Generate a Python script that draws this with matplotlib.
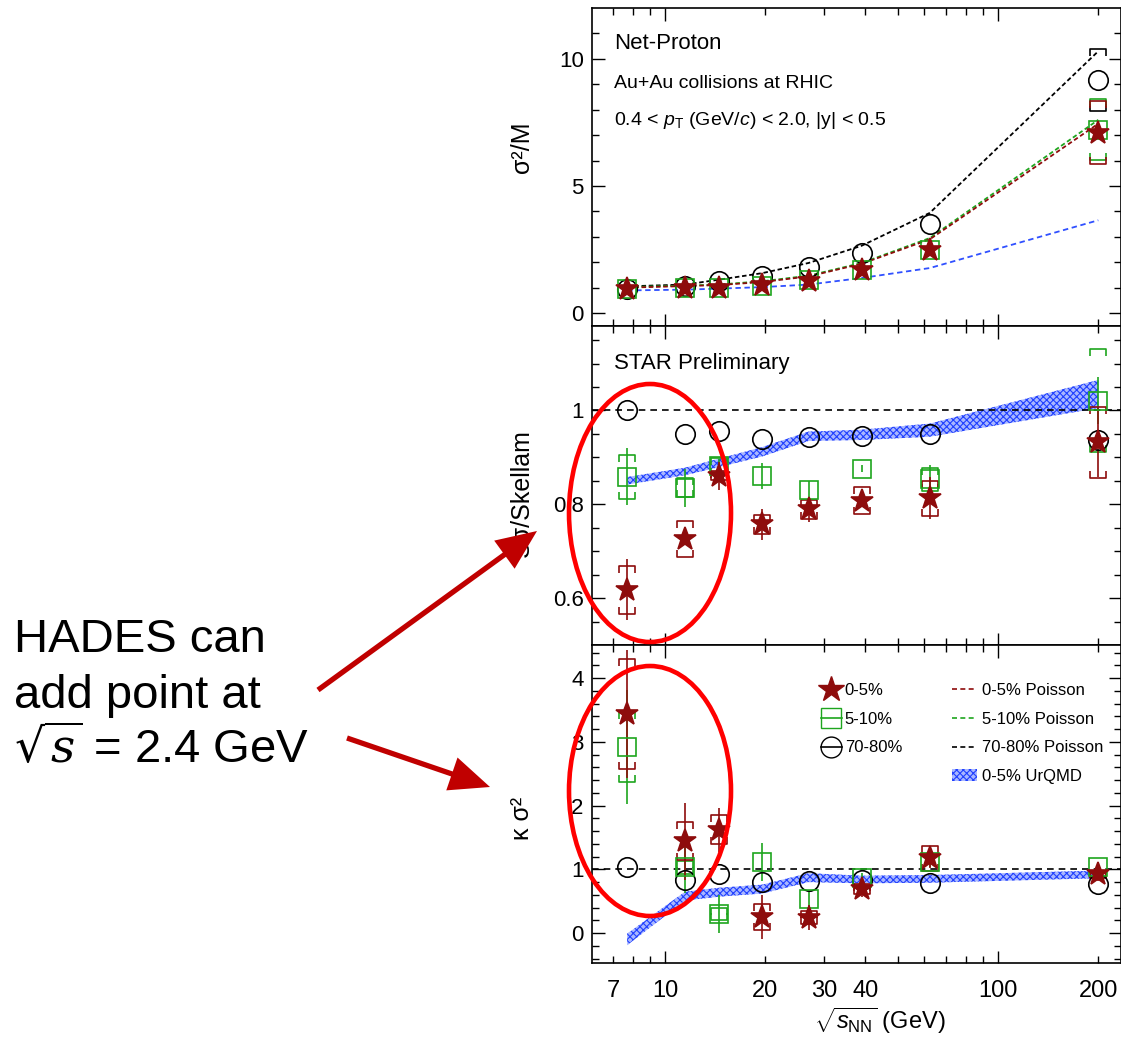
import numpy as np
import matplotlib.pyplot as plt
from matplotlib.lines import Line2D
from matplotlib.patches import Ellipse, FancyArrowPatch, Patch, ArrowStyle
from matplotlib.path import Path

plt.rcParams['font.family'] = ['Liberation Sans', 'DejaVu Sans']
plt.rcParams['mathtext.fontset'] = 'custom'
plt.rcParams['mathtext.rm'] = 'Liberation Sans'
plt.rcParams['mathtext.it'] = 'Liberation Sans:italic'
plt.rcParams['mathtext.bf'] = 'Liberation Sans:bold'
plt.rcParams['hatch.linewidth'] = 0.8

# collision energies (GeV)
energy = [7.7, 11.5, 14.5, 19.6, 27, 39, 62.4, 200]

# --- sigma^2/M ---
c2m_0_5 = [0.94, 0.97, 0.98, 1.09, 1.25, 1.70, 2.47, 7.10]
c2m_5_10 = [0.94, 0.97, 0.98, 1.08, 1.30, 1.70, 2.48, 7.22]
c2m_70_80 = [0.95, 1.05, 1.25, 1.45, 1.80, 2.35, 3.50, 9.15]
c2m_sys_0_5 = [0, 0, 0, 0, 0, 0, 0, 1.25]
c2m_sys_5_10 = [0, 0, 0, 0, 0, 0, 0, 1.20]
c2m_sys_70_80 = [0, 0, 0, 0, 0, 0, 0, 1.22]
pois_0_5 = [1.00, 1.06, 1.10, 1.22, 1.44, 1.94, 2.90, 7.45]
pois_5_10 = [1.02, 1.08, 1.12, 1.25, 1.47, 1.97, 2.95, 7.60]
pois_70_80 = [1.05, 1.12, 1.31, 1.57, 1.97, 2.65, 3.94, 10.30]
urqmd_c2m = [0.89, 0.92, 0.96, 1.02, 1.12, 1.38, 1.77, 3.65]

# --- S sigma / Skellam ---
ss_0_5 = [0.618, 0.726, 0.861, 0.757, 0.789, 0.808, 0.813, 0.932]
ss_stat_0_5 = [0.065, 0.012, 0.030, 0.033, 0.027, 0.012, 0.045, 0.073]
ss_sys_0_5 = [0.051, 0.039, 0.010, 0.021, 0.021, 0.028, 0.037, 0.075]
ss_5_10 = [0.859, 0.835, 0.881, 0.860, 0.830, 0.876, 0.853, 1.021]
ss_stat_5_10 = [0.060, 0.040, 0.015, 0.028, 0.020, 0.008, 0.030, 0.050]
ss_sys_5_10 = [0.047, 0.020, 0.018, 0, 0, 0, 0.025, 0.110]
ss_70_80 = [1.000, 0.950, 0.957, 0.940, 0.943, 0.946, 0.950, 0.936]
urqmd_ss = [0.850, 0.870, 0.888, 0.912, 0.945, 0.948, 0.958, 1.035]
urqmd_ss_err = [0.008, 0.008, 0.009, 0.010, 0.010, 0.011, 0.014, 0.030]

# --- kappa sigma^2 ---
ks_0_5 = [3.44, 1.44, 1.62, 0.25, 0.24, 0.69, 1.17, 0.92]
ks_stat_0_5 = [1.00, 0.60, 0.35, 0.35, 0.20, 0.12, 0.15, 0.10]
ks_sys_0_5 = [0.86, 0.30, 0.23, 0.20, 0.10, 0.08, 0.19, 0.05]
ks_5_10 = [2.92, 1.03, 0.30, 1.12, 0.53, 0.86, 1.12, 1.04]
ks_stat_5_10 = [0.90, 0.40, 0.30, 0.30, 0.12, 0.08, 0.08, 0.08]
ks_sys_5_10 = [0.55, 0.10, 0.10, 0, 0, 0, 0, 0]
ks_70_80 = [1.04, 0.83, 0.92, 0.80, 0.82, 0.83, 0.78, 0.77]
urqmd_ks = [-0.10, 0.58, 0.64, 0.69, 0.87, 0.84, 0.85, 0.92]
urqmd_ks_err = [0.09, 0.07, 0.07, 0.07, 0.07, 0.06, 0.06, 0.06]

red = '#8e0c0c'
green = '#1ea51e'
blue = '#3050ff'

W, H = 1121, 1042
fig = plt.figure(figsize=(W / 100, H / 100), dpi=100)
left, width = 592 / W, (W - 592) / W
ax1 = fig.add_axes([left, 1 - 326 / H, width, 318 / H])
ax2 = fig.add_axes([left, 1 - 645 / H, width, 319 / H], sharex=ax1)
ax3 = fig.add_axes([left, 1 - 963 / H, width, 318 / H], sharex=ax1)

# bracket shapes for systematic errors
cap_top = Path([(-1, -0.9), (-1, 0), (1, 0), (1, -0.9)],
               [Path.MOVETO, Path.LINETO, Path.LINETO, Path.LINETO])
cap_bot = Path([(-1, 0.9), (-1, 0), (1, 0), (1, 0.9)],
               [Path.MOVETO, Path.LINETO, Path.LINETO, Path.LINETO])


def sys_caps(ax, y, sys, color):
    x = np.array(energy)
    y = np.array(y)
    sys = np.array(sys)
    m = sys > 0
    ax.plot(x[m], y[m] + sys[m], ls='none', marker=cap_top, ms=11,
            mfc='none', mec=color, mew=1.2, zorder=3)
    ax.plot(x[m], y[m] - sys[m], ls='none', marker=cap_bot, ms=11,
            mfc='none', mec=color, mew=1.2, zorder=3)


def points(ax, y, stat, sys, color, marker, ms, filled):
    if stat is not None:
        ax.errorbar(energy, y, yerr=stat, fmt='none', ecolor=color,
                    elinewidth=1.2, capsize=0, zorder=3)
    if sys is not None:
        sys_caps(ax, y, sys, color)
    ax.plot(energy, y, ls='none', marker=marker, ms=ms,
            mfc=color if filled else 'none', mec=color, mew=1.2, zorder=4)


def band(ax, y, err):
    y = np.array(y)
    err = np.array(err)
    ax.fill_between(energy, y - err, y + err, facecolor='#a9b7ff',
                    edgecolor='#2040ff', hatch='xxxxx', lw=0, zorder=1)


# top panel: sigma^2/M
ax1.plot(energy, pois_70_80, color='black', lw=1.3, dashes=(2.5, 1.5), zorder=2)
ax1.plot(energy, pois_5_10, color=green, lw=1.3, dashes=(2.5, 1.5), zorder=2)
ax1.plot(energy, pois_0_5, color=red, lw=1.3, dashes=(2.5, 1.5), zorder=2)
ax1.plot(energy, urqmd_c2m, color=blue, lw=1.3, dashes=(3, 2), zorder=2)
points(ax1, c2m_70_80, None, c2m_sys_70_80, 'black', 'o', 14, False)
points(ax1, c2m_5_10, None, c2m_sys_5_10, green, 's', 13, False)
points(ax1, c2m_0_5, None, c2m_sys_0_5, red, '*', 17, True)

# middle panel: S sigma / Skellam
band(ax2, urqmd_ss, urqmd_ss_err)
ax2.axhline(1, color='black', lw=1.2, dashes=(4, 3), zorder=2)
points(ax2, ss_70_80, None, None, 'black', 'o', 14, False)
points(ax2, ss_5_10, ss_stat_5_10, ss_sys_5_10, green, 's', 13, False)
points(ax2, ss_0_5, ss_stat_0_5, ss_sys_0_5, red, '*', 17, True)

# bottom panel: kappa sigma^2
band(ax3, urqmd_ks, urqmd_ks_err)
ax3.axhline(1, color='black', lw=1.2, dashes=(4, 3), zorder=2)
points(ax3, ks_70_80, None, None, 'black', 'o', 14, False)
points(ax3, ks_5_10, ks_stat_5_10, ks_sys_5_10, green, 's', 13, False)
points(ax3, ks_0_5, ks_stat_0_5, ks_sys_0_5, red, '*', 17, True)

ax1.set_xscale('log')
ax1.set_xlim(6.04, 234)
ax1.set_ylim(-0.51, 12.0)
ax2.set_ylim(0.5, 1.18)
ax3.set_ylim(-0.47, 4.52)

ax1.set_yticks([0, 5, 10])
ax1.set_yticks(np.arange(0, 12, 1), minor=True)
ax2.set_yticks([0.6, 0.8, 1.0])
ax2.set_yticklabels(['0.6', '0.8', '1'])
ax2.set_yticks(np.arange(0.55, 1.18, 0.05), minor=True)
ax3.set_yticks([0, 1, 2, 3, 4])
ax3.set_yticks(np.arange(-0.4, 4.52, 0.2), minor=True)

minor_x = [7, 8, 9, 20, 30, 40, 50, 60, 70, 80, 90, 200]
minor_lbl = ['7', '', '', '20', '30', '40', '', '', '', '', '', '200']
for ax in (ax1, ax2, ax3):
    ax.set_xticks([10, 100])
    ax.set_xticks(minor_x, minor=True)
    ax.tick_params(which='both', direction='in', top=True, right=True,
                   width=1.0, labelsize=16, pad=6)
    ax.tick_params(which='major', length=9)
    ax.tick_params(which='minor', length=5)
    for s in ax.spines.values():
        s.set_linewidth(1.2)
for ax in (ax1, ax2):
    ax.tick_params(axis='x', which='both', labelbottom=False)
ax3.set_xticklabels(['10', '100'])
ax3.set_xticklabels(minor_lbl, minor=True)
ax3.tick_params(axis='x', which='both', labelsize=17, pad=12)

ax1.set_ylabel('σ²/M', fontsize=18, va='center')
ax1.yaxis.set_label_coords(-0.132, 0.563)
ax2.set_ylabel('Sσ/Skellam', fontsize=18, va='center')
ax2.yaxis.set_label_coords(-0.132, 0.476)
ax3.set_ylabel('κ σ²', fontsize=18, va='center')
ax3.yaxis.set_label_coords(-0.132, 0.456)
ax3.set_xlabel(r'$\sqrt{s_{\rm NN}}$ (GeV)', fontsize=17)
ax3.xaxis.set_label_coords(0.544, -0.135)

ax1.text(0.042, 0.887, 'Net-Proton', transform=ax1.transAxes, fontsize=16, va='center')
ax1.text(0.042, 0.764, 'Au+Au collisions at RHIC', transform=ax1.transAxes,
         fontsize=14, va='center')
ax1.text(0.042, 0.645, r'0.4 < $p_{\rm T}$ (GeV/$c$) < 2.0, |y| < 0.5',
         transform=ax1.transAxes, fontsize=14, va='center')
ax2.text(0.042, 0.881, 'STAR Preliminary', transform=ax2.transAxes, fontsize=16, va='center')

# legends
mk_handles = [
    Line2D([], [], ls='none', marker='*', ms=19, color=red),
    Line2D([], [], ls='-', lw=1.2, marker='s', ms=14, mfc='none', mec=green, color=green),
    Line2D([], [], ls='-', lw=1.2, marker='o', ms=15, mfc='none', mec='black', color='black'),
]
leg1 = ax3.legend(mk_handles, ['0-5%', '5-10%', '70-80%'], loc='upper left',
                  bbox_to_anchor=(0.432, 0.88), frameon=False, fontsize=12,
                  handlelength=1.3, handletextpad=0.15, labelspacing=0.82,
                  borderpad=0, borderaxespad=0)
ax3.add_artist(leg1)
ln_handles = [
    Line2D([], [], color=red, lw=1.2, dashes=(3, 2)),
    Line2D([], [], color=green, lw=1.2, dashes=(3, 2)),
    Line2D([], [], color='black', lw=1.2, dashes=(3, 2)),
    Patch(facecolor='#a9b7ff', edgecolor='#2040ff', hatch='xxxxx', lw=0),
]
ax3.legend(ln_handles, ['0-5% Poisson', '5-10% Poisson', '70-80% Poisson', '0-5% UrQMD'],
           loc='upper left', bbox_to_anchor=(0.68, 0.88), frameon=False, fontsize=12,
           handlelength=1.5, handletextpad=0.3, labelspacing=0.82,
           borderpad=0, borderaxespad=0)

# annotation on the left
fig.text(14 / W, 1 - 652 / H, 'HADES can', fontsize=34, va='baseline')
fig.text(14 / W, 1 - 708 / H, 'add point at', fontsize=34, va='baseline')
fig.text(14 / W, 1 - 763 / H, r'$\sqrt{s}$ = 2.4 GeV', fontsize=34, va='baseline',
         math_fontfamily='dejavuserif')

for cy, hh in ((513, 258), (791, 250)):
    fig.add_artist(Ellipse((650 / W, 1 - cy / H), 162 / W, hh / H,
                           transform=fig.transFigure, fill=False,
                           ec='#ff0000', lw=3.3, zorder=10))

arrow_style = ArrowStyle('Simple', head_length=2.9, head_width=2.5, tail_width=0.38)
for (x0, y0), (x1, y1) in (((318, 690), (537, 531)), ((347, 738), (490, 787))):
    fig.add_artist(FancyArrowPatch((x0 / W, 1 - y0 / H), (x1 / W, 1 - y1 / H),
                                   transform=fig.transFigure, arrowstyle=arrow_style,
                                   mutation_scale=10, color='#c00000', lw=0,
                                   shrinkA=0, shrinkB=0, zorder=10))

fig.savefig('out.png', dpi=100)
